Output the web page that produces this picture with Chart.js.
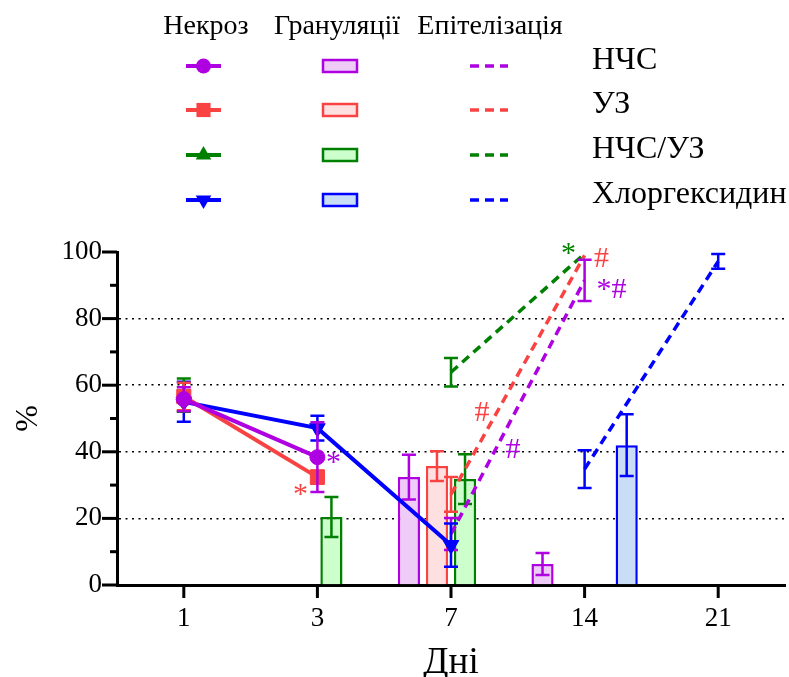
<!DOCTYPE html>
<html>
<head>
<meta charset="utf-8">
<script src="https://cdn.jsdelivr.net/npm/chart.js@4.4.1/dist/chart.umd.min.js"></script>
<style>
  html, body { margin: 0; padding: 0; background: #fff; }
  #wrap { width: 789px; height: 677px; }
</style>
</head>
<body>
<div id="wrap"><canvas id="chart"></canvas></div>
<script>
const days = ["1", "3", "7", "14", "21"];
const groups = ["НЧС", "УЗ", "НЧС/УЗ", "Хлоргексидин"];
const headers = ["Некроз", "Грануляції", "Епітелізація"];
const yTicks = [0, 20, 40, 60, 80, 100];

// Некроз (lines with symbols)
const necNCS = [55.8, 38.4, null, null, null];
const necNCSErr = [3.6, 10.5, 0, 0, 0];
const necUZ = [56.6, 32.4, null, null, null];
const necUZErr = [4.1, 2, 0, 0, 0];
const necNCSUZ = [57, null, null, null, null];
const necNCSUZErr = [5, 0, 0, 0, 0];
const necChlor = [55, 47.1, 12, null, null];
const necChlorErr = [6, 3.7, 6.5, 0, 0];

// Грануляції (bars)
const granNCS = [null, null, 32.4, 6.3, null];
const granNCSErr = [0, 0, 6.7, 3.3, 0];
const granUZ = [null, null, 35.7, null, null];
const granUZErr = [0, 0, 4.5, 0, 0];
const granNCSUZ = [null, 20.4, 31.8, null, null];
const granNCSUZErr = [0, 6, 7.5, 0, 0];
const granChlor = [null, null, null, 42, null];
const granChlorErr = [0, 0, 0, 9.3, 0];

// Епітелізація (dashed lines)
const epiNCS = [null, null, 15.3, 91.5, null];
const epiNCSErr = [0, 0, 4.8, 6.2, 0];
const epiUZ = [null, null, 27.2, 99, null];
const epiUZErr = [0, 0, 5.2, 0, 0];
const epiNCSUZ = [null, null, 63.9, 99.5, null];
const epiNCSUZErr = [0, 0, 4.3, 0, 0];
const epiChlor = [null, null, null, 34.8, 97.2];
const epiChlorErr = [0, 0, 0, 5.7, 2.2];

// significance marks: category index, y value, pixel shift, text, group
const marks = [
  [1, 36.5, 16, "*", 0],
  [1, 27, -17, "*", 1],
  [2, 51.5, 31, "#", 1],
  [2, 40.5, 62, "#", 0],
  [3, 99.5, -16, "*", 2],
  [3, 98, 17, "#", 1],
  [3, 88.5, 27, "*#", 0]
];

const colors = ["#AE00E0", "#F94343", "#008000", "#0000FF"];
const fills = ["#EFCCF7", "#FFE0E0", "#CCFFCC", "#C9DDF7"];
const markers = [["circle", 7.5, 0], ["rect", 10, 0], ["triangle", 9, 0], ["triangle", 9, 180]];
const FONT = "'Liberation Serif', 'Times New Roman', serif";

const necData = [necNCS, necUZ, necNCSUZ, necChlor];
const necErr = [necNCSErr, necUZErr, necNCSUZErr, necChlorErr];
const granData = [granNCS, granUZ, granNCSUZ, granChlor];
const granErr = [granNCSErr, granUZErr, granNCSUZErr, granChlorErr];
const epiData = [epiNCS, epiUZ, epiNCSUZ, epiChlor];
const epiErr = [epiNCSErr, epiUZErr, epiNCSUZErr, epiChlorErr];

const datasets = [];
groups.forEach((g, i) => {
  datasets.push({
    type: "line", label: "Некроз " + g, data: necData[i], errors: necErr[i],
    borderColor: colors[i], backgroundColor: colors[i], borderWidth: 4,
    pointStyle: markers[i][0], pointRadius: markers[i][1], pointRotation: markers[i][2],
    pointBackgroundColor: colors[i], pointBorderColor: colors[i], pointBorderWidth: 1,
    order: 0
  });
});
groups.forEach((g, i) => {
  datasets.push({
    type: "line", label: "Епітелізація " + g, data: epiData[i], errors: epiErr[i],
    borderColor: colors[i], borderWidth: 3.5, borderDash: [9, 6], pointRadius: 0,
    order: 1
  });
});
groups.forEach((g, i) => {
  datasets.push({
    type: "bar", label: "Грануляції " + g, data: granData[i], errors: granErr[i],
    backgroundColor: fills[i], borderColor: colors[i], borderWidth: 2.5,
    barPercentage: 0.79, categoryPercentage: 0.84, order: 2
  });
});

function drawErr(chart, args) {
  const ds = chart.data.datasets[args.index];
  if (!ds.errors) return;
  const ctx = chart.ctx, y = chart.scales.y;
  ctx.save();
  ctx.strokeStyle = ds.borderColor;
  ctx.lineWidth = 2.5;
  ctx.setLineDash([]);
  args.meta.data.forEach((el, i) => {
    const v = ds.data[i], e = ds.errors[i];
    if (v == null || !e) return;
    const x = el.x, t = y.getPixelForValue(v + e), b = y.getPixelForValue(v - e);
    ctx.beginPath();
    ctx.moveTo(x, t); ctx.lineTo(x, b);
    ctx.moveTo(x - 7, t); ctx.lineTo(x + 7, t);
    ctx.moveTo(x - 7, b); ctx.lineTo(x + 7, b);
    ctx.stroke();
  });
  ctx.restore();
}

const errorBars = {
  id: "errorBars",
  beforeDatasetDraw(chart, args) {
    if (chart.data.datasets[args.index].type === "line") drawErr(chart, args);
  },
  afterDatasetDraw(chart, args) {
    if (chart.data.datasets[args.index].type === "bar") drawErr(chart, args);
  }
};

function drawMarker(ctx, style, rot, x, y, r) {
  ctx.beginPath();
  if (style === "circle") {
    ctx.arc(x, y, r, 0, Math.PI * 2);
  } else if (style === "rect") {
    const s = r * Math.SQRT1_2;
    ctx.rect(x - s, y - s, 2 * s, 2 * s);
  } else {
    const d = rot ? -1 : 1;
    const w = r * Math.sqrt(3) / 2;
    ctx.moveTo(x, y - d * r);
    ctx.lineTo(x - w, y + d * r / 2);
    ctx.lineTo(x + w, y + d * r / 2);
    ctx.closePath();
  }
  ctx.fill();
}

const decor = {
  id: "decor",
  afterDraw(chart) {
    const { ctx, chartArea, scales: { x, y } } = chart;
    ctx.save();
    // axis ticks
    ctx.strokeStyle = "#000";
    ctx.lineWidth = 3;
    for (let v = 0; v <= 100; v += 10) {
      const py = y.getPixelForValue(v);
      const len = yTicks.includes(v) ? 15 : 7;
      ctx.beginPath();
      ctx.moveTo(chartArea.left - len, py);
      ctx.lineTo(chartArea.left, py);
      ctx.stroke();
    }
    days.forEach((d, i) => {
      const px = x.getPixelForValue(i);
      ctx.beginPath();
      ctx.moveTo(px, chartArea.bottom);
      ctx.lineTo(px, chartArea.bottom + 13);
      ctx.stroke();
    });

    // significance marks
    ctx.font = "30px " + FONT;
    ctx.textAlign = "center";
    ctx.textBaseline = "middle";
    marks.forEach(m => {
      ctx.fillStyle = colors[m[4]];
      ctx.fillText(m[3], x.getPixelForValue(m[0]) + m[2], y.getPixelForValue(m[1]));
    });

    // legend table
    ctx.fillStyle = "#000";
    ctx.font = "28px " + FONT;
    const headX = [206, 337, 490];
    headers.forEach((h, i) => ctx.fillText(h, headX[i], 27));
    const rowY = [66, 110, 155, 200];
    ctx.textAlign = "left";
    ctx.font = "32px " + FONT;
    groups.forEach((g, i) => {
      const ry = rowY[i];
      ctx.fillStyle = "#000";
      ctx.fillText(g, 592, ry - 5);
      // necrosis symbol
      ctx.strokeStyle = colors[i];
      ctx.fillStyle = colors[i];
      ctx.lineWidth = 4;
      ctx.setLineDash([]);
      ctx.beginPath(); ctx.moveTo(186, ry); ctx.lineTo(221, ry); ctx.stroke();
      drawMarker(ctx, markers[i][0], markers[i][2], 203.5, ry, markers[i][1]);
      // granulation symbol
      ctx.fillStyle = fills[i];
      ctx.fillRect(322, ry - 7, 36, 14);
      ctx.lineWidth = 2.5;
      ctx.strokeRect(323, ry - 6, 34, 12);
      // epithelization symbol
      ctx.lineWidth = 3.5;
      ctx.setLineDash([9, 6]);
      ctx.beginPath(); ctx.moveTo(470, ry); ctx.lineTo(508, ry); ctx.stroke();
      ctx.setLineDash([]);
    });
    ctx.restore();
  }
};

new Chart(document.getElementById("chart"), {
  type: "bar",
  data: { labels: days, datasets: datasets },
  options: {
    responsive: true,
    maintainAspectRatio: false,
    animation: false,
    layout: { autoPadding: false, padding: { top: 252, right: 4, left: 0, bottom: 0 } },
    plugins: { legend: { display: false }, tooltip: { enabled: false } },
    scales: {
      x: {
        offset: true,
        grid: { display: false, drawTicks: false },
        border: { display: true, width: 3, color: "#000" },
        ticks: { color: "#000", font: { family: FONT, size: 27 }, padding: 18, maxRotation: 0 },
        title: { display: true, text: "Дні", color: "#000", font: { family: FONT, size: 37, lineHeight: 0.76 }, padding: 0 },
        afterFit: s => { s.height = 92; s.paddingLeft = 0; s.paddingRight = 0; }
      },
      y: {
        min: 0, max: 100,
        grid: {
          drawTicks: false, lineWidth: 1.5,
          color: c => (c.tick && [20, 40, 60, 80].includes(c.tick.value)) ? "#000" : "rgba(0,0,0,0)"
        },
        border: { display: true, width: 3, color: "#000", dash: [2, 4.5] },
        ticks: {
          stepSize: 10, color: "#000", padding: 15,
          font: { family: FONT, size: 27 },
          callback: v => yTicks.includes(v) ? v : ""
        },
        title: { display: true, text: "%", color: "#000", font: { family: FONT, size: 32, lineHeight: 1.2 }, padding: { top: 9, bottom: 0 } },
        afterFit: s => { s.width = 117; }
      }
    }
  },
  plugins: [errorBars, decor]
});
</script>
</body>
</html>
